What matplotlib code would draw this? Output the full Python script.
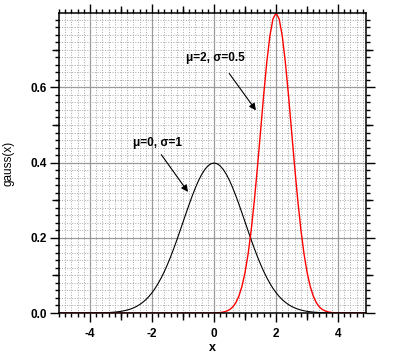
import numpy as np
import matplotlib
matplotlib.use('Agg')
import matplotlib.pyplot as plt
from matplotlib.ticker import MultipleLocator

plt.rcParams['font.family'] = ['Liberation Sans', 'DejaVu Sans']

# sample grid of the curves
x = np.round(np.arange(-5.0, 4.95, 0.1), 1)

# mu=0, sigma=1
y_black = [0.0] * 10 + [
    0.0001, 0.0002, 0.0003, 0.0004, 0.0006, 0.0009, 0.0012, 0.0017, 0.0024, 0.0033,
    0.0044, 0.0060, 0.0079, 0.0104, 0.0136, 0.0175, 0.0224, 0.0283, 0.0355, 0.0440,
    0.0540, 0.0656, 0.0790, 0.0940, 0.1109, 0.1295, 0.1497, 0.1714, 0.1942, 0.2179,
    0.2420, 0.2661, 0.2897, 0.3123, 0.3332, 0.3521, 0.3683, 0.3814, 0.3910, 0.3970,
    0.3989,
    0.3970, 0.3910, 0.3814, 0.3683, 0.3521, 0.3332, 0.3123, 0.2897, 0.2661, 0.2420,
    0.2179, 0.1942, 0.1714, 0.1497, 0.1295, 0.1109, 0.0940, 0.0790, 0.0656, 0.0540,
    0.0440, 0.0355, 0.0283, 0.0224, 0.0175, 0.0136, 0.0104, 0.0079, 0.0060, 0.0044,
    0.0033, 0.0024, 0.0017, 0.0012, 0.0009, 0.0006, 0.0004, 0.0003, 0.0002, 0.0001,
] + [0.0] * 9

# mu=2, sigma=0.5
y_red = [0.0] * 49 + [
    0.0001, 0.0003, 0.0006, 0.0012, 0.0025, 0.0048, 0.0089, 0.0158, 0.0271, 0.0448,
    0.0709, 0.1080, 0.1579, 0.2218, 0.2995, 0.3884, 0.4839, 0.5794, 0.6665, 0.7365,
    0.7821, 0.7979, 0.7821, 0.7365, 0.6665, 0.5794, 0.4839, 0.3884, 0.2995, 0.2218,
    0.1579, 0.1080, 0.0709, 0.0448, 0.0271, 0.0158, 0.0089, 0.0048, 0.0025, 0.0012,
    0.0006, 0.0003, 0.0001,
] + [0.0] * 8

labels = ['\u03bc=0, \u03c3=1', '\u03bc=2, \u03c3=0.5']
label_pos = [(-2.62, 0.452), (-0.92, 0.677)]
arrow_tail = [(-1.70, 0.421), (0.49, 0.637)]
arrow_tip = [(-0.84, 0.322), (1.35, 0.539)]

fig = plt.figure(figsize=(3.95, 3.56), dpi=100)
pos = [59 / 395, 43 / 356, 307 / 395, 300 / 356]
ax = fig.add_axes(pos)

ax.plot(x, y_black, color='black', lw=0.8)
ax.plot(x, y_red, color='#ff0000', lw=1.0)

ax.set_xlim(x[0], x[-1])
ax.set_ylim(0, max(y_red))

# ticks
ax.xaxis.set_major_locator(MultipleLocator(2))
ax.xaxis.set_minor_locator(MultipleLocator(0.2))
ax.yaxis.set_major_locator(MultipleLocator(0.2))
ax.yaxis.set_minor_locator(MultipleLocator(0.02))
ax.yaxis.set_major_formatter(plt.FormatStrFormatter('%.1f'))
ax.xaxis.set_major_formatter(plt.FormatStrFormatter('%d'))
ax.tick_params(which='both', direction='out', top=True, right=True, width=1, color='black')
ax.tick_params(which='major', length=6.5, labelsize=8.5, pad=2)
ax.tick_params(axis='x', which='major', pad=4)
ax.tick_params(which='minor', length=3.2)
for lab in ax.get_xticklabels() + ax.get_yticklabels():
    lab.set_fontweight('bold')

# grid
ax.grid(which='major', color='#9a9a9a', lw=0.9, ls='-')
ax.grid(which='minor', color='#a8a8a8', lw=0.7, ls=(0, (1, 1.6)))
ax.set_axisbelow(True)
for s in ax.spines.values():
    s.set_linewidth(1.1)

# mid-length ticks at the odd units
ax2 = fig.add_axes(pos, frameon=False)
ax2.patch.set_visible(False)
ax2.set_xlim(x[0], x[-1])
ax2.set_ylim(0, max(y_red))
ax2.set_xticks([-3, -1, 1, 3])
ax2.set_yticks([0.1, 0.3, 0.5, 0.7])
ax2.tick_params(direction='out', top=True, right=True, length=5, width=1,
                labelbottom=False, labelleft=False)

ax.set_xlabel('x', fontsize=9, fontweight='bold', va='center')
ax.set_ylabel('gauss(x)', fontsize=8.5, va='center')
ax.xaxis.set_label_coords(0.5, -0.117)
ax.yaxis.set_label_coords(-0.166, 0.5)

arrow = dict(arrowstyle='-|>', color='black', lw=0.8, mutation_scale=10,
             shrinkA=0, shrinkB=0)
for lab, lp, tail, tip in zip(labels, label_pos, arrow_tail, arrow_tip):
    ax.text(lp[0], lp[1], lab, fontsize=8.5, fontweight='bold', va='center', ha='left')
    ax.annotate('', xy=tip, xytext=tail, arrowprops=arrow)

plt.savefig('out.png', dpi=100)
